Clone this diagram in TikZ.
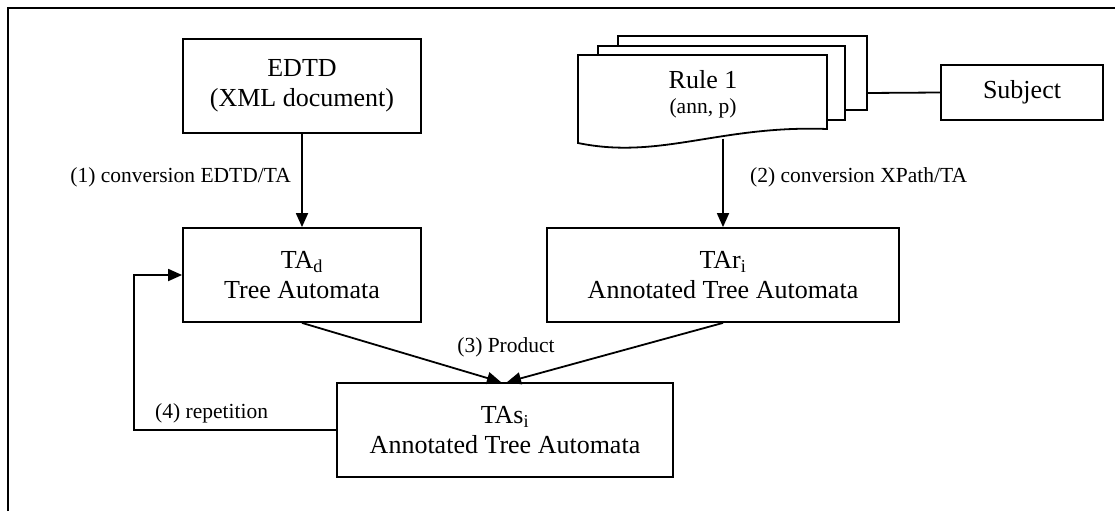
\documentclass[tikz,border=0pt]{standalone}
\usepackage{fontspec}
\setmainfont{Liberation Serif}
\usetikzlibrary{arrows.meta}
\begin{document}
\begin{tikzpicture}[x=1pt,y=-1pt,
  box/.style={draw,line width=1.8pt,align=center,inner sep=0pt,font=\fontsize{26}{30}\selectfont},
  big/.style={inner sep=0pt,font=\fontsize{26}{30}\selectfont},
  lbl/.style={font=\fontsize{21.5}{24}\selectfont,inner sep=0pt},
  conn/.style={line width=1.8pt},
  arr/.style={conn,-{Triangle[length=14pt,width=12pt]}}]
\useasboundingbox (0,0) rectangle (1115,511);
\draw[line width=2.4pt] (8,511) -- (8,8) -- (1115,8);

% boxes
\node[box,minimum width=238pt,minimum height=94pt] (edtd) at (302,86) {EDTD\\(XML document)};
\node[box,minimum width=238pt,minimum height=94pt] (tad) at (302,275) {TA\textsubscript{d}\\Tree Automata};
\node[box,minimum width=352pt,minimum height=94pt] (tar) at (723,275) {TAr\textsubscript{i}\\Annotated Tree Automata};
\node[box,minimum width=336pt,minimum height=94pt] (tas) at (505,430) {TAs\textsubscript{i}\\Annotated Tree Automata};
\node[box,minimum width=162pt,minimum height=55pt] (subj) at (1022,92.5) {Subject};

% multi-document
\draw[conn,fill=white] (618,36) rectangle (867,110);
\draw[conn,fill=white] (598,46) rectangle (845,120);
\draw[conn,fill=white] (578,143) -- (578,55) -- (827,55) -- (827,129)
  .. controls (720,125) and (660,160) .. (578,143) -- cycle;
\node[big] (rule) at (703,80) {Rule 1};
\node[lbl] (ann) at (703,108) {(ann, p)};
\coordinate (ruleb) at (723,138.6);
\coordinate (p3) at (867,93);

% connectors
\draw[conn] (p3) -- (subj.west);
\draw[arr] (edtd) -- (tad);
\draw[arr] (ruleb) -- (tar.north);
\draw[arr] (tad.south) -- ([xshift=-4pt]tas.north);
\draw[arr] (tar.south) -- ([xshift=2pt]tas.north);
\draw[arr] (tas.west) -- ++(-202,0) |- (tad.west);

% labels
\node[lbl,anchor=east] (l1) at (291,177) {(1) conversion EDTD/TA};
\node[lbl,anchor=west] (l2) at (750,177) {(2) conversion XPath/TA};
\node[lbl] (l3) at (506,347) {(3) Product};
\node[lbl,anchor=west] (l4) at (155,413) {(4) repetition};
\end{tikzpicture}
\end{document}
